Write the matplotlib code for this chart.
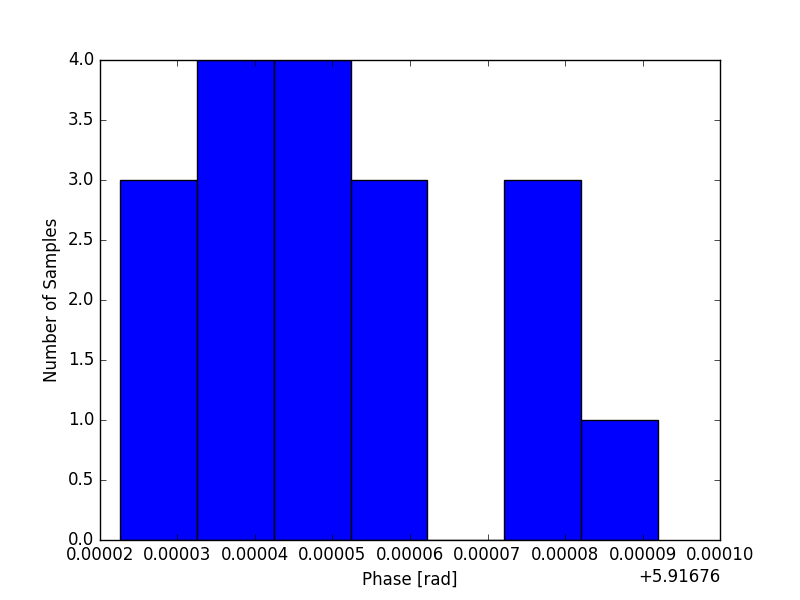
import matplotlib
matplotlib.use("Agg")
import matplotlib.pyplot as plt
from matplotlib.ticker import ScalarFormatter

# phase histogram, bins (relative to the offset)
PHASE_OFFSET = 5.91676
bin_edges = [0.00002258, 0.00003250, 0.00004242, 0.00005234,
             0.00006225, 0.00007217, 0.00008209, 0.00009200]
counts = [3, 4, 4, 3, 0, 3, 1]

plt.style.use("classic")

fig = plt.figure(figsize=(8, 6), dpi=100)
ax = fig.add_subplot(111)

edges = [PHASE_OFFSET + e for e in bin_edges]
ax.hist(edges[:-1], bins=edges, weights=counts, color="b", edgecolor="k")

ax.set_xlim(PHASE_OFFSET + 0.00002, PHASE_OFFSET + 0.00010)
ax.set_ylim(0, 4)
fmt = ScalarFormatter(useOffset=PHASE_OFFSET)
ax.xaxis.set_major_formatter(fmt)

ax.set_xlabel("Phase [rad]")
ax.set_ylabel("Number of Samples")

fig.savefig("out.png", dpi=100, facecolor="white")
